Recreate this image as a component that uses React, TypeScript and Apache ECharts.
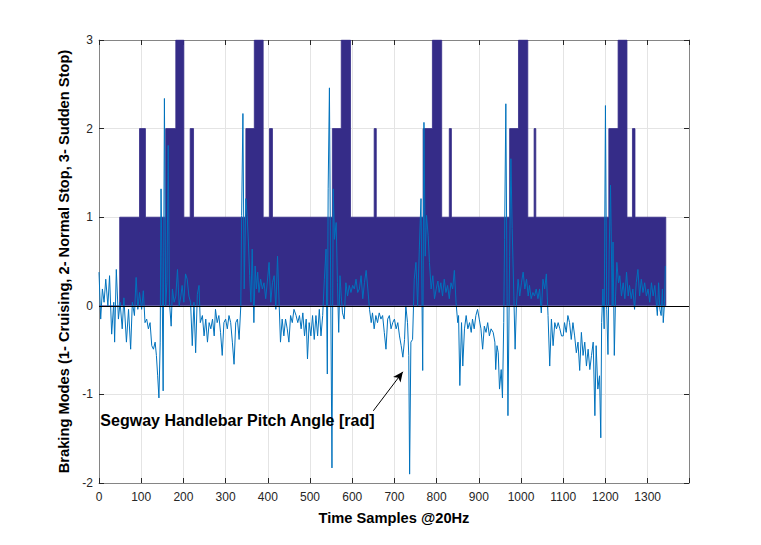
import React, { useEffect, useRef } from "react";
import * as echarts from "echarts";

// Braking mode step data: value holds from each start sample until the next
const modeStart = [0, 49, 96, 110, 158, 182, 201, 216, 224, 348, 368, 389, 404, 411, 553, 574, 596, 652, 657, 768, 790, 812, 830, 835, 973, 994, 1016, 1031, 1035, 1208, 1230, 1251, 1264, 1270, 1343];
const modeValue = [0, 1, 2, 1, 2, 3, 1, 2, 1, 2, 3, 1, 2, 1, 2, 3, 1, 2, 1, 2, 3, 1, 2, 1, 2, 3, 1, 2, 1, 2, 3, 1, 2, 1, 0];

// Segway handlebar pitch angle [rad]
const pitchSample = [
  0, 4, 8, 12, 16, 21, 25, 30, 35, 37, 41, 46, 50, 55, 59, 65, 70, 75, 79, 84, 88, 92, 96, 101, 105, 109, 113, 117, 121, 125,
  129, 133, 136, 139, 142, 145, 147, 149, 152, 155, 158, 161, 164, 167, 171, 174, 178, 182, 186, 190, 194, 197, 201, 205, 209, 213, 217, 221, 225, 229,
  233, 237, 240, 245, 249, 253, 257, 261, 265, 269, 273, 276, 280, 284, 288, 292, 296, 300, 304, 308, 312, 316, 320, 324, 328, 332, 336, 338, 341, 344,
  348, 351, 354, 357, 360, 363, 367, 370, 373, 376, 379, 383, 387, 391, 395, 399, 403, 407, 411, 415, 419, 423, 427, 430, 434, 438, 442, 446, 450, 454,
  458, 462, 467,
  471, 475, 479, 483, 487, 491, 494, 498, 502, 506, 510, 514, 518, 522, 526, 530, 534, 538, 541, 543, 546, 549, 552, 555, 558, 562, 565, 568, 571, 574,
  577, 581, 585, 589, 593, 597, 601, 605, 609, 613, 617, 621, 625, 629, 633, 637, 641, 645, 648, 652, 656, 660, 664, 668, 672, 676, 680, 684, 688, 692,
  696, 700, 704, 708, 712, 716, 720, 724, 727, 731, 734, 736, 739, 743, 747, 751, 755, 759, 763, 767, 770, 773, 776, 780, 783, 787, 791, 795, 799, 803,
  806, 810, 814, 818, 822, 826, 830, 834, 838, 842, 846, 850, 852, 855, 859, 862, 866, 870, 874, 878, 882, 885, 889, 893, 897, 901, 905, 909, 913, 917,
  921, 925, 929, 934,
  938, 940, 943, 946, 949, 953, 956, 959, 961, 964, 967, 969, 973, 976, 979, 983, 986, 989, 993, 997, 1001, 1005, 1009, 1013, 1017, 1020, 1024, 1028, 1032, 1036,
  1040, 1044, 1048, 1052, 1056, 1060, 1064, 1068, 1072, 1076, 1080, 1084, 1088, 1092, 1096, 1100, 1103, 1107, 1111, 1115, 1119, 1123, 1127, 1131, 1135, 1139, 1143, 1147, 1151, 1155,
  1159, 1163, 1167, 1171, 1175, 1178, 1182, 1186, 1189, 1191, 1194, 1197, 1200, 1203, 1206, 1209, 1212, 1216, 1218, 1221, 1224, 1227, 1231, 1234, 1238, 1242, 1246, 1250, 1254, 1257,
  1261, 1265, 1269, 1273, 1277, 1281, 1285, 1289, 1293, 1297, 1301, 1305, 1309, 1313, 1317, 1321, 1323, 1326, 1329, 1332, 1335, 1337, 1340, 1342
];
const pitchValue = [
  0.38, -0.15, 0.19, 0.04, 0.30, 0, 0.34, -0.32, 0.04, -0.41, 0.41, -0.15, 0.04, -0.26, 0.09, -0.41, -0.04, -0.49, 0.04, -0.11, 0.32, -0.04, 0.15, -0.04, 0.17, -0.19, -0.15, -0.26, -0.19, -0.45,
  -0.49, -0.41, -0.56, -0.79, -1.04, -0.41, 1.32, 0.56, -0.96, 2.34, 0, 0.26, 1.81, 0.04, -0.23, 0.19, 0.04, 0.11, 0.41, 0, 0.11, 0.23, 0.04, 0.36, 0.30, 0.11, 0.04, -0.45, 0.04, -0.53,
  0.13, 0.23, -0.19, -0.11, -0.34, -0.15, -0.41, -0.19, -0.26, -0.15, -0.34, -0.04, -0.19, -0.11, -0.30, -0.56, -0.19, -0.15, -0.26, -0.11, -0.19, -0.41, -0.66, -0.19, -0.15, -0.38, 0, 1.02, 2.17, 0.19,
  1.21, 1.02, 0.72, 0.34, 0.04, 0.64, -0.19, 0.45, 0.19, 0.38, 0.15, 0.30, 0.19, 0.26, 0.08, 0.28, 0.49, 0.04, 0.26, 0.34, -0.04, 0.56, 0, -0.41, -0.15, -0.34, -0.15, -0.26, -0.41, -0.11,
  -0.19, -0.04, -0.11,
  -0.19, -0.11, -0.26, -0.08, -0.34, -0.15, -0.60, -0.19, -0.34, -0.11, -0.38, -0.11, -0.34, -0.04, -0.34, -0.11, 0.30, 0.64, -0.77, 1.32, 2.46, 0.19, -1.83, 1.32, 0.75, 0.94, 0.26, -0.30, 0.34, 0.11,
  -0.08, -0.15, 0.26, 0.11, 0.23, 0.15, 0.23, 0.19, 0.30, 0.15, 0.19, 0.34, 0.08, 0.26, 0.40, 0.19, -0.04, -0.19, -0.08, -0.26, -0.11, -0.19, -0.08, -0.15, -0.11, -0.30, -0.49, -0.15, -0.11, -0.26,
  -0.19, -0.15, -0.26, -0.19, -0.34, -0.45, -0.58, -0.38, 0, -0.19, -0.56, -1.90, -0.41, -0.38, 0.30, 0.49, 0, 0.64, 1.21, -0.73, 2.07, 0.56, 1.02, 0.79, 0.49, 0.19, 0.34, 0.08, 0.19, 0.28,
  0.15, 0.26, 0.11, 0.30, 0.15, 0.23, 0.08, 0.26, 0.19, 0.40, 0.04, -0.19, -0.11, -0.90, -0.19, -0.68, -0.26, -0.11, -0.26, -0.19, -0.30, -0.15, -0.26, -0.11, -0.04, -0.15, -0.26, -0.49, -0.23, -0.30,
  -0.19, -0.34, -0.26, -0.30,
  -0.41, -0.72, -0.45, -0.53, -0.94, -0.72, -1.04, -0.19, 0.75, 2.28, 0.04, -1.24, 0.56, 1.66, 0.87, 0.11, -0.49, 0, 0.30, 0.11, 0.26, 0.38, 0.19, 0.30, 0.11, 0.23, 0.08, 0.15, 0.11, 0.19,
  0.08, 0.19, -0.08, 0.30, 0.19, 0.36, -0.11, -0.68, -0.15, -0.45, -0.19, -0.26, -0.19, -0.26, -0.34, -0.34, -0.19, -0.30, -0.11, -0.19, -0.38, -0.19, -0.34, -0.53, -0.41, -0.73, -0.30, -0.56, -0.41, -0.68,
  -0.49, -0.72, -0.56, -0.41, -1.24, -0.45, -0.94, -0.79, -1.49, -0.19, 0.19, -0.26, 2.26, -0.04, -0.55, 0.64, 1.36, 0, 0.72, -0.56, 0.11, 0.49, 0.26, 0.34, 0.11, 0.26, 0.08, 0.38, 0.11, 0.23,
  0.08, 0.19, -0.04, 0.26, 0.41, 0.11, 0.30, 0.15, 0.26, 0.11, 0.19, 0.04, 0.26, 0.11, 0.23, 0, -0.11, 0.26, -0.04, -0.11, 0.19, -0.19, 0.04, 0.45
];

const xTickLabels = ["0", "100", "200", "300", "400", "500", "600", "700", "800", "900", "1000", "1100", "1200", "1300"];
const yTickLabels = ["-2", "-1", "0", "1", "2", "3"];

const xLabel = "Time Samples @20Hz";
const yLabel = "Braking Modes (1- Cruising, 2- Normal Stop, 3- Sudden Stop)";
const annotationText = "Segway Handlebar Pitch Angle [rad]";
const annotationAnchor = [2, -1.3];
const arrowFrom = [650, -1.185];
const arrowTo = [720, -0.745];

export default function App() {
  const ref = useRef<HTMLDivElement>(null);

  useEffect(() => {
    if (!ref.current) return;
    const chart = echarts.init(ref.current, null, { renderer: "svg" });
    const font = "'Liberation Sans', Arial, Helvetica, sans-serif";
    const tickColor = "#262626";
    const gridColor = "#e4e4e4";
    const boxColor = "#858585";
    const barColor = "#352C88";
    const lineColor = "#0072BD";
    const xMax = 1398;

    const xFmt = (v: number) => (xTickLabels.includes(String(v)) ? String(v) : "");
    const yFmt = (v: number) => (yTickLabels.includes(String(v)) ? String(v) : "");

    chart.setOption({
      animation: false,
      backgroundColor: "#ffffff",
      grid: { left: 99, right: 72, top: 40, bottom: 62, containLabel: false },
      xAxis: [
        {
          type: "value",
          min: 0,
          max: xMax,
          interval: 100,
          position: "bottom",
          name: xLabel,
          nameLocation: "middle",
          nameGap: 27,
          nameTextStyle: { fontWeight: "bold", fontSize: 14.67, color: "#000", fontFamily: font },
          axisLine: { show: true, onZero: false, lineStyle: { color: boxColor, width: 1 } },
          axisTick: { show: true, inside: true, length: 5, lineStyle: { color: tickColor } },
          axisLabel: { color: tickColor, fontSize: 12, fontFamily: font, margin: 8, formatter: xFmt },
          splitLine: { show: true, lineStyle: { color: gridColor, width: 1 } },
        },
        {
          type: "value",
          min: 0,
          max: xMax,
          interval: 100,
          position: "top",
          axisLine: { show: true, onZero: false, lineStyle: { color: boxColor, width: 1 } },
          axisTick: { show: true, inside: true, length: 5, lineStyle: { color: tickColor } },
          axisLabel: { show: false },
          splitLine: { show: false },
        },
      ],
      yAxis: [
        {
          type: "value",
          min: -2,
          max: 3,
          interval: 1,
          position: "left",
          name: yLabel,
          nameLocation: "middle",
          nameRotate: 90,
          nameGap: 19,
          nameTextStyle: { fontWeight: "bold", fontSize: 14.67, color: "#000", fontFamily: font },
          axisLine: { show: true, onZero: false, lineStyle: { color: boxColor, width: 1 } },
          axisTick: { show: true, inside: true, length: 5, lineStyle: { color: tickColor } },
          axisLabel: { color: tickColor, fontSize: 12, fontFamily: font, margin: 6, formatter: yFmt },
          splitLine: { show: true, lineStyle: { color: gridColor, width: 1 } },
        },
        {
          type: "value",
          min: -2,
          max: 3,
          interval: 1,
          position: "right",
          axisLine: { show: true, onZero: false, lineStyle: { color: boxColor, width: 1 } },
          axisTick: { show: true, inside: true, length: 5, lineStyle: { color: tickColor } },
          axisLabel: { show: false },
          splitLine: { show: false },
        },
      ],
      series: [
        {
          name: "Braking Mode",
          type: "line",
          xAxisIndex: 0,
          yAxisIndex: 0,
          step: "end",
          symbol: "none",
          z: 2,
          data: modeStart.map((s, i) => [s, modeValue[i]]),
          lineStyle: { color: barColor, width: 0.8 },
          areaStyle: { color: barColor, opacity: 1, origin: 0 },
          markLine: {
            silent: true,
            symbol: ["none", "none"],
            label: { show: false },
            lineStyle: { color: "#000", width: 1, type: "solid" },
            data: [{ yAxis: 0 }],
          },
        },
        {
          name: "Pitch",
          type: "line",
          xAxisIndex: 0,
          yAxisIndex: 0,
          symbol: "none",
          z: 3,
          data: pitchSample.map((s, i) => [s, pitchValue[i]]),
          lineStyle: { color: lineColor, width: 1 },
          markLine: {
            silent: true,
            symbol: ["none", "arrow"],
            symbolSize: [7, 10],
            label: { show: false },
            lineStyle: { color: "#000", width: 1, type: "solid" },
            data: [[{ coord: arrowFrom }, { coord: arrowTo }]],
          },
          markPoint: {
            silent: true,
            symbol: "circle",
            symbolSize: 1,
            itemStyle: { color: "rgba(0,0,0,0)" },
            label: {
              show: true,
              position: "right",
              distance: 0,
              formatter: annotationText,
              color: "#000",
              fontWeight: "bold",
              fontSize: 16,
              fontFamily: font,
            },
            data: [{ coord: annotationAnchor }],
          },
        },
      ],
    });
    return () => chart.dispose();
  }, []);

  return (
    <div
      ref={ref}
      style={{ position: "fixed", left: 0, top: 0, width: 761, height: 545, background: "#fff" }}
    />
  );
}
